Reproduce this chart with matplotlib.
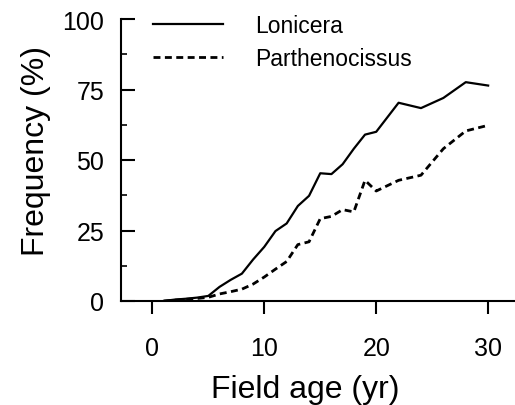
import numpy as np
import matplotlib
matplotlib.use('Agg')
import matplotlib.pyplot as plt
from matplotlib.ticker import MultipleLocator

plt.rcParams['font.family'] = ['Liberation Sans', 'DejaVu Sans']

years = [1, 2, 3, 4, 5, 6, 7, 8, 9, 10, 11, 12, 13, 14, 15, 16, 17, 18, 19, 20, 22, 24, 26, 28, 30]
lonicera = [0, 0.5, 0.8, 1.2, 1.8, 5.0, 7.5, 9.7, 14.7, 19.2, 24.8, 27.5, 33.7, 37.3, 45.3,
            45.0, 48.5, 54.0, 59.0, 60.0, 70.3, 68.4, 72.0, 77.6, 76.4]
parthenocissus = [0, 0.3, 0.6, 0.9, 1.3, 2.5, 3.3, 4.2, 6.0, 8.5, 11.3, 14.0, 20.0, 21.0, 29.2,
                  30.0, 32.4, 31.6, 42.8, 39.0, 42.8, 44.6, 54.0, 60.3, 62.3]

fig = plt.figure(figsize=(5.15, 4.06), dpi=100)
ax = fig.add_axes([121/515, 104/406, 1 - 121/515, 282/406])

ax.plot(years, lonicera, color='k', lw=1.6, label='Lonicera')
ax.plot(years, parthenocissus, color='k', lw=2, linestyle=(0, (2.5, 1.6)), label='Parthenocissus')

ax.set_xlim(-2.8, 32.4)
ax.set_ylim(0, 100)
ax.spines['top'].set_visible(False)
ax.spines['right'].set_visible(False)
for s in ['left', 'bottom']:
    ax.spines[s].set_linewidth(1.5)

ax.set_xticks([0, 10, 20, 30])
ax.set_yticks([0, 25, 50, 75, 100])
ax.yaxis.set_minor_locator(MultipleLocator(12.5))
ax.tick_params(axis='x', direction='out', length=9, width=1.5, pad=16, labelsize=18)
ax.tick_params(axis='y', which='major', direction='in', length=10, width=1.5, pad=12, labelsize=18)
ax.tick_params(axis='y', which='minor', direction='in', length=4.5, width=1.2)

fig.text(36/515, 1 - 151/406, 'Frequency (%)', rotation=90, ha='center', va='center', fontsize=23)
fig.text(305/515, 8/406, 'Field age (yr)', ha='center', va='baseline', fontsize=23)

ax.legend(loc='upper left', bbox_to_anchor=(153/515, 1 - 15/406), bbox_transform=fig.transFigure,
          frameon=False, fontsize=16.5, handlelength=3.05, handletextpad=1.4, labelspacing=0.45,
          borderaxespad=0, borderpad=0)

fig.savefig('out.png', dpi=100)
